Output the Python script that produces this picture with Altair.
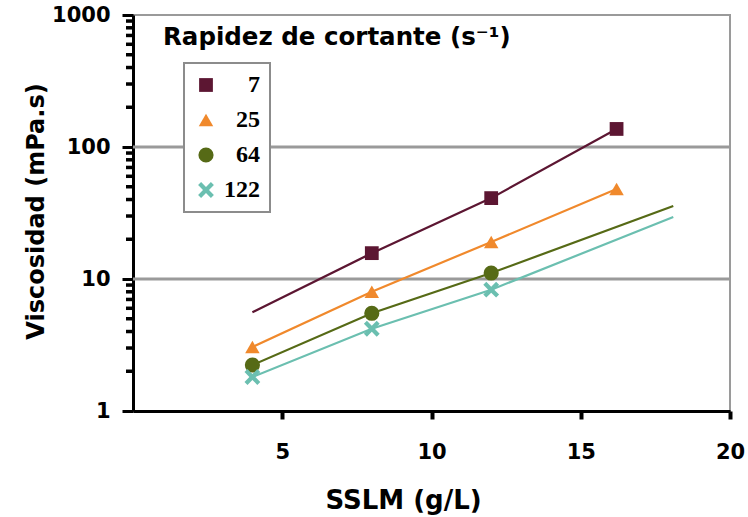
import altair as alt
import pandas as pd

# ---- data ----
series = ["7", "25", "64", "122"]
x_7 = [4, 8, 12, 16.2]
y_7 = [5.6, 15.7, 41, 137]
m_7 = [False, True, True, True]
x_25 = [4, 8, 12, 16.2]
y_25 = [3.05, 8.0, 19.1, 48]
m_25 = [True, True, True, True]
x_64 = [4, 8, 12, 18.1]
y_64 = [2.23, 5.5, 11.1, 35.7]
m_64 = [True, True, True, False]
x_122 = [4, 8, 12, 18.1]
y_122 = [1.81, 4.2, 8.3, 29.5]
m_122 = [True, True, True, False]

x_ticks = [5, 10, 15, 20]
y_major = [1, 10, 100, 1000]
y_minor = [2, 3, 4, 5, 6, 7, 8, 9, 20, 30, 40, 50, 60, 70, 80, 90,
           200, 300, 400, 500, 600, 700, 800, 900]
y_grid = [10, 100]

colors = ["#5c1632", "#f0892c", "#566a16", "#6bbfb0"]
xpath = ("M-1,-0.62L-0.62,-1L0,-0.38L0.62,-1L1,-0.62L0.38,0L1,0.62L0.62,1"
         "L0,0.38L-0.62,1L-1,0.62L-0.38,0Z")
shapes = ["square", "triangle-up", "circle", xpath]
sizes = [190, 250, 340, 380]

legend_title = "Rapidez de cortante (s\u207b\u00b9)"

rows = []
for s, xs, ys, ms in [("7", x_7, y_7, m_7), ("25", x_25, y_25, m_25),
                      ("64", x_64, y_64, m_64), ("122", x_122, y_122, m_122)]:
    for xv, yv, mv in zip(xs, ys, ms):
        rows.append({"series": s, "x": xv, "y": yv, "marker": mv})
df = pd.DataFrame(rows)

FONT = "DejaVu Sans"
W, H = 597, 396

xscale = alt.Scale(domain=[0, 20], nice=False, zero=False)
yscale = alt.Scale(type="log", domain=[1, 1000], nice=False)
cscale = alt.Scale(domain=series, range=colors)

x_enc = alt.X(
    "x:Q", scale=xscale,
    axis=alt.Axis(
        values=x_ticks, format="d", labelFlush=False, labelOverlap=False,
        labelFont=FONT, labelFontWeight="bold", labelFontSize=21, labelColor="black",
        labelPadding=22, ticks=True, tickSize=8, tickWidth=4, tickColor="black",
        domainColor="black", domainWidth=3, grid=False,
        title="SSLM (g/L)", titleFont=FONT, titleFontWeight="bold", titleFontSize=26,
        titleColor="black", titleX=270, titleY=97, titleAlign="center",
        titleBaseline="alphabetic",
    ),
)
y_enc = alt.Y(
    "y:Q", scale=yscale,
    axis=alt.Axis(
        values=y_major, format="d",
        labelOverlap=False, labelFlush=False,
        labelFont=FONT, labelFontWeight="bold", labelFontSize=21, labelColor="black",
        labelPadding=12,
        ticks=True, tickColor="black", tickWidth=3, tickSize=11,
        domainColor="black", domainWidth=3, grid=False,
        title="Viscosidad (mPa.s)", titleFont=FONT, titleFontWeight="bold",
        titleFontSize=24, titleColor="black", titleX=-90, titleY=196,
        titleAlign="center", titleBaseline="alphabetic", titleAngle=270,
    ),
)

grid = alt.Chart(pd.DataFrame({"g": y_grid})).mark_rule(
    color="#9a9a9a", strokeWidth=3
).encode(y=alt.Y("g:Q", scale=yscale), x=alt.value(0), x2=alt.value(W))

minor = alt.Chart(pd.DataFrame({"m": y_minor})).mark_rule(
    color="black", strokeWidth=3.5
).encode(y=alt.Y("m:Q", scale=yscale), x=alt.value(-7), x2=alt.value(0))

legend = alt.Legend(
    title=None, orient="none", legendX=51, legendY=48,
    fillColor="white", strokeColor="#8c8c8c",
    padding=10, rowPadding=11, symbolStrokeWidth=0,
    labelFont="Liberation Serif", labelFontWeight="bold", labelFontSize=24,
    labelColor="black", labelAlign="right", labelOffset=42,
)

lines = alt.Chart(df).mark_line(strokeWidth=2.2).encode(
    x=x_enc, y=y_enc,
    color=alt.Color("series:N", scale=cscale, legend=legend),
    detail="series:N",
)

points = alt.Chart(df).transform_filter("datum.marker").mark_point(
    filled=True, opacity=1
).encode(
    x=alt.X("x:Q", scale=xscale),
    y=alt.Y("y:Q", scale=yscale),
    color=alt.Color("series:N", scale=cscale, legend=legend),
    shape=alt.Shape("series:N", scale=alt.Scale(domain=series, range=shapes), legend=legend),
    size=alt.Size("series:N", scale=alt.Scale(domain=series, range=sizes), legend=legend),
)

title_text = alt.Chart(pd.DataFrame({"t": [legend_title]})).mark_text(
    align="left", baseline="alphabetic", font=FONT, fontWeight="bold",
    fontSize=24.5, color="black",
).encode(x=alt.value(30), y=alt.value(30), text="t:N")

chart = alt.layer(grid, lines, points, minor, title_text).properties(
    width=W, height=H,
    autosize=alt.AutoSizeParams(type="none"),
    padding={"left": 133, "top": 15, "right": 18, "bottom": 106},
    background="white",
).configure_view(stroke="#9a9a9a", strokeWidth=2).configure_legend(strokeWidth=2)

chart.save("out.html", embed_options={"renderer": "svg", "actions": False})
